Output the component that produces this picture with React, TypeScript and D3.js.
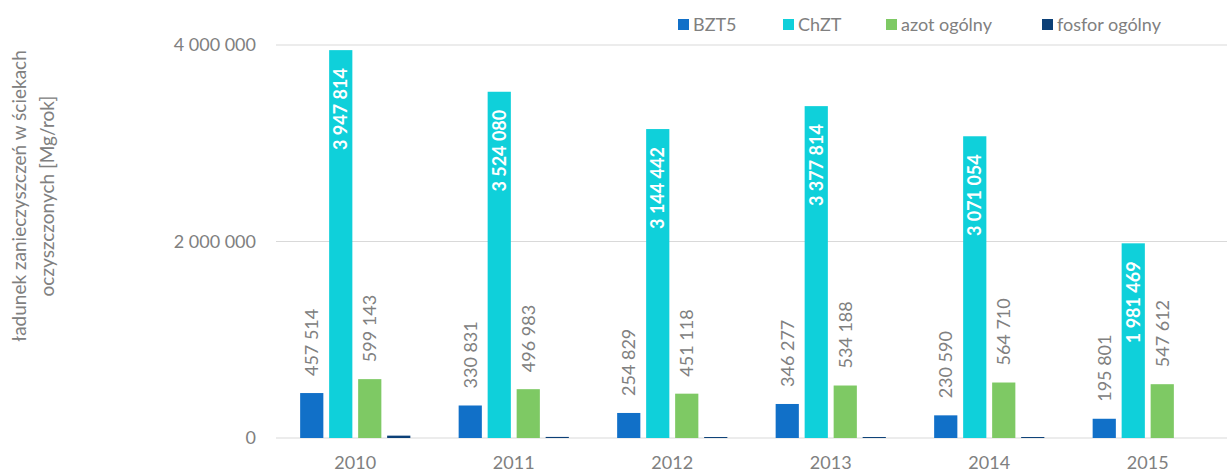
import * as d3 from 'd3';

const years = ['2010', '2011', '2012', '2013', '2014', '2015'];
const seriesNames = ['BZT5', 'ChZT', 'azot ogólny', 'fosfor ogólny'];
const bzt5 = [457514, 330831, 254829, 346277, 230590, 195801];
const chzt = [3947814, 3524080, 3144442, 3377814, 3071054, 1981469];
const azot = [599143, 496983, 451118, 534188, 564710, 547612];
const fosfor = [24000, 11000, 10000, 10000, 10000, 0];
const yTicks = [0, 2000000, 4000000];
const colors = ['#1170c8', '#0fd0da', '#7ec964', '#0c4077'];

const W = 1229;
const H = 473;
const FONT = 'Lato, "Open Sans", sans-serif';
const GRAY = '#808080';

const locale = d3.formatLocale({ decimal: ',', thousands: ' ', grouping: [3], currency: ['', ''] });
const fmt = locale.format(',');

export default function App() {
  const values = [bzt5, chzt, azot, fosfor];

  const x = d3.scaleBand().domain(years).range([276, 1227]);
  const inner = d3.scaleBand().domain(seriesNames).range([-58, 58]).paddingInner(0.2).paddingOuter(0.1);
  const y = d3.scaleLinear().domain([0, 4000000]).range([438, 45]);

  const legendX = [678, 783, 886, 1042];

  return (
    <svg width={W} height={H} style={{ position: 'absolute', left: 0, top: 0, fontFamily: FONT }}>
      <rect width={W} height={H} fill="#fff" />
      {/* y gridlines */}
      {yTicks.map(t => (
        <g key={t}>
          <line x1={276} x2={1227} y1={y(t)} y2={y(t)} stroke="#d9d9d9" strokeWidth={1} />
          <text x={256} y={y(t)} dy="0.35em" textAnchor="end" fontSize={18} fill={GRAY}>{fmt(t)}</text>
        </g>
      ))}
      {/* axis title */}
      <g transform="translate(0,196) rotate(-90)">
        <text x={0} y={26} textAnchor="middle" fontSize={19} fill={GRAY}>ładunek zanieczyszczeń w ściekach</text>
        <text x={0} y={54} textAnchor="middle" fontSize={19} fill={GRAY}>oczyszczonych [Mg/rok]</text>
      </g>
      {/* bars */}
      {years.map((yr, i) => {
        const cx = (x(yr) as number) + x.bandwidth() / 2;
        return (
          <g key={yr}>
            {seriesNames.map((s, k) => {
              const v = values[k][i];
              if (!v) return null;
              const bx = cx + (inner(s) as number);
              const bw = inner.bandwidth();
              const top = y(v);
              const mid = bx + bw / 2;
              return (
                <g key={s}>
                  <rect x={bx} y={top} width={bw} height={y(0) - top} fill={colors[k]} />
                  {(k === 0 || k === 2) && (
                    <text transform={`translate(${mid},${top - 17}) rotate(-90)`} dy="0.35em" textAnchor="start" fontSize={18} fill={GRAY}>{fmt(v)}</text>
                  )}
                  {k === 1 && (
                    <text transform={`translate(${mid},${top + 18}) rotate(-90)`} dy="0.35em" textAnchor="end" fontSize={18} fontWeight="bold" fill="#fff">{fmt(v)}</text>
                  )}
                </g>
              );
            })}
            <text x={cx} y={463} dy="0.35em" textAnchor="middle" fontSize={18} fill={GRAY}>{yr}</text>
          </g>
        );
      })}
      {/* legend */}
      {seriesNames.map((s, k) => (
        <g key={s}>
          <rect x={legendX[k]} y={19} width={11} height={11} fill={colors[k]} />
          <text x={legendX[k] + 15} y={24.5} dy="0.35em" fontSize={18} fill={GRAY}>{s}</text>
        </g>
      ))}
    </svg>
  );
}
